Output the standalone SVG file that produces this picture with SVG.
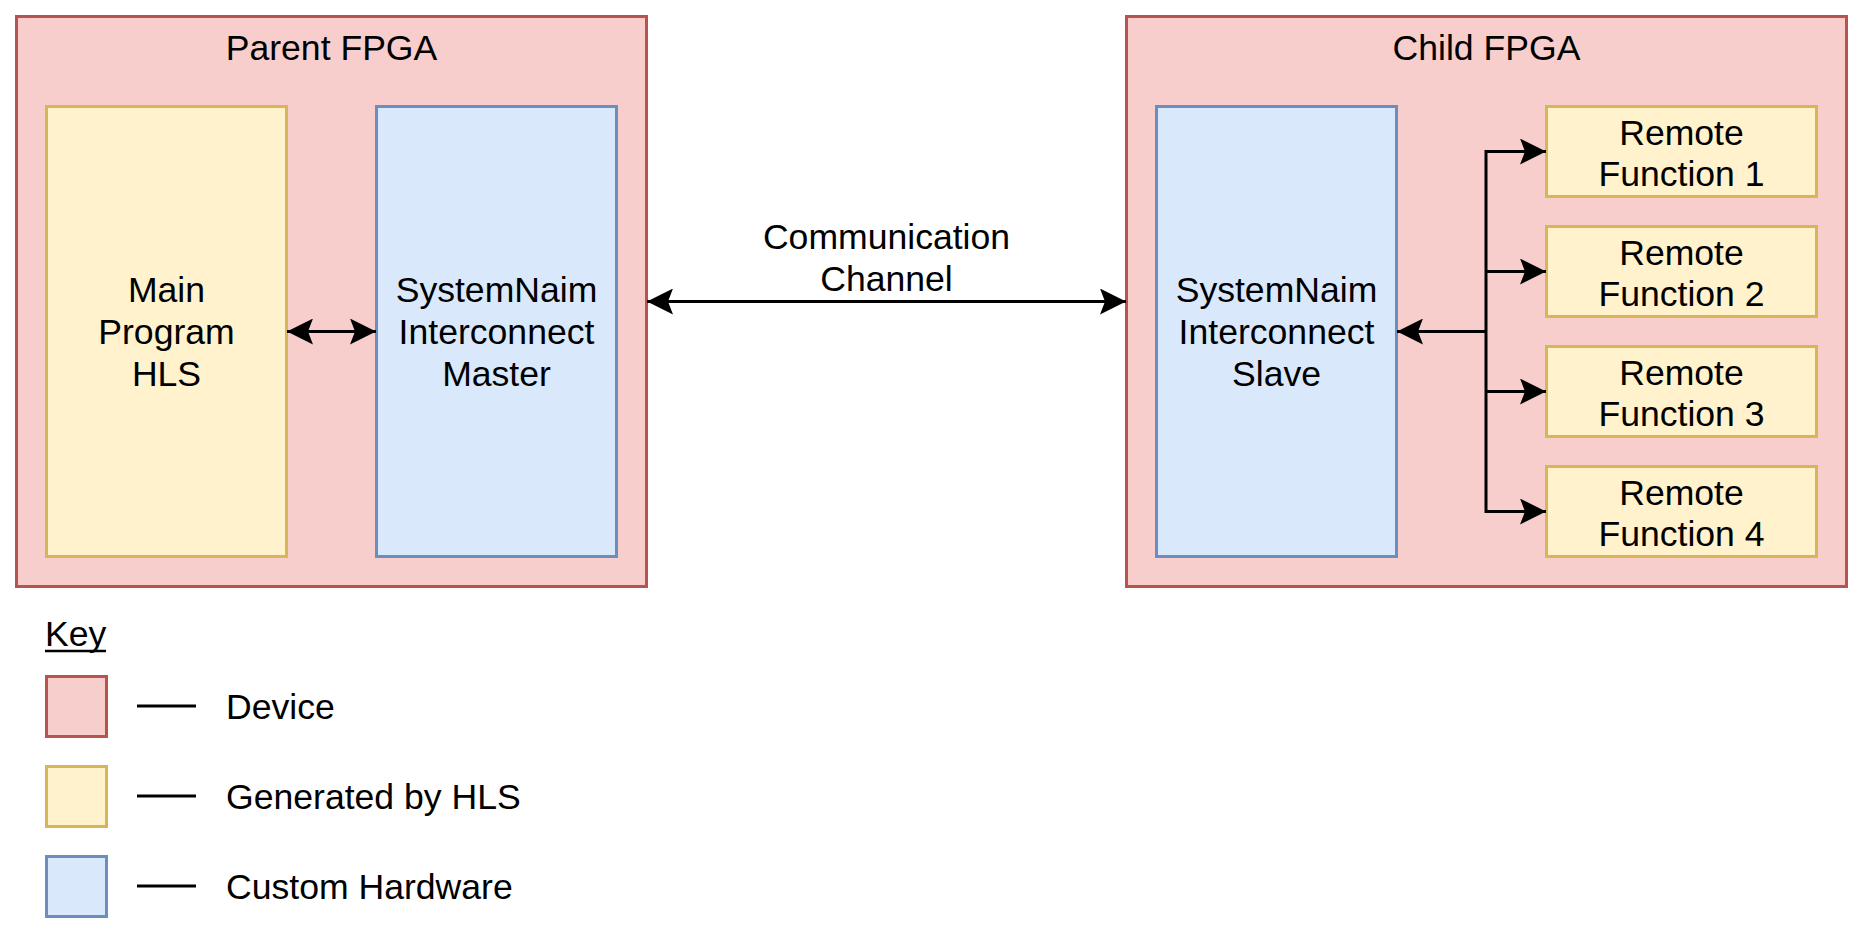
<svg xmlns="http://www.w3.org/2000/svg" width="1863" height="933" viewBox="0 0 1863 933">
<style>
.dev{fill:#f8cecc;stroke:#b85450;stroke-width:3}
.hls{fill:#fff2cc;stroke:#d6b656;stroke-width:3}
.cus{fill:#dae8fc;stroke:#6c8ebf;stroke-width:3}
text{font-family:"Liberation Sans",Arial,sans-serif;font-size:35.6px;fill:#000}
.c{text-anchor:middle}
.ln{stroke:#000;stroke-width:3;fill:none}
</style>
<defs>
<marker id="ah" viewBox="0 0 26 26" refX="26" refY="13" markerWidth="26" markerHeight="26" markerUnits="userSpaceOnUse" orient="auto-start-reverse">
<path d="M26,13 L0,0 L5,13 L0,26 Z" fill="#000"/>
</marker>
</defs>
<rect width="1863" height="933" fill="#fff"/>
<g id="parent-fpga">
<rect class="dev" x="16.5" y="16.5" width="630" height="570"/>
<text class="c" x="331.5" y="60">Parent FPGA</text>
</g>
<g id="main-program">
<rect class="hls" x="46.5" y="106.5" width="240" height="450"/>
<text class="c" x="166.5" y="301.5">Main</text>
<text class="c" x="166.5" y="343.5">Program</text>
<text class="c" x="166.5" y="385.5">HLS</text>
</g>
<g id="master">
<rect class="cus" x="376.5" y="106.5" width="240" height="450"/>
<text class="c" x="496.5" y="301.5">SystemNaim</text>
<text class="c" x="496.5" y="343.5">Interconnect</text>
<text class="c" x="496.5" y="385.5">Master</text>
</g>
<g id="child-fpga">
<rect class="dev" x="1126.5" y="16.5" width="720" height="570"/>
<text class="c" x="1486.5" y="60">Child FPGA</text>
</g>
<g id="slave">
<rect class="cus" x="1156.5" y="106.5" width="240" height="450"/>
<text class="c" x="1276.5" y="301.5">SystemNaim</text>
<text class="c" x="1276.5" y="343.5">Interconnect</text>
<text class="c" x="1276.5" y="385.5">Slave</text>
</g>
<g id="rf1">
<rect class="hls" x="1546.5" y="106.5" width="270" height="90"/>
<text class="c" x="1681.5" y="144.5">Remote</text>
<text class="c" x="1681.5" y="186">Function 1</text>
</g>
<g id="rf2">
<rect class="hls" x="1546.5" y="226.5" width="270" height="90"/>
<text class="c" x="1681.5" y="264.5">Remote</text>
<text class="c" x="1681.5" y="306">Function 2</text>
</g>
<g id="rf3">
<rect class="hls" x="1546.5" y="346.5" width="270" height="90"/>
<text class="c" x="1681.5" y="384.5">Remote</text>
<text class="c" x="1681.5" y="426">Function 3</text>
</g>
<g id="rf4">
<rect class="hls" x="1546.5" y="466.5" width="270" height="90"/>
<text class="c" x="1681.5" y="504.5">Remote</text>
<text class="c" x="1681.5" y="546">Function 4</text>
</g>
<g id="connectors">
<line class="ln" x1="287" y1="331.5" x2="376" y2="331.5" marker-start="url(#ah)" marker-end="url(#ah)"/>
<line class="ln" x1="647" y1="301.5" x2="1126" y2="301.5" marker-start="url(#ah)" marker-end="url(#ah)"/>
<text class="c" x="886.5" y="249">Communication</text>
<text class="c" x="886.5" y="290.5">Channel</text>
<line class="ln" x1="1486" y1="331.5" x2="1397" y2="331.5" marker-end="url(#ah)"/>
<polyline class="ln" points="1520,151.5 1486,151.5 1486,511.5 1520,511.5"/>
<line class="ln" x1="1486" y1="151.5" x2="1546" y2="151.5" marker-end="url(#ah)"/>
<line class="ln" x1="1486" y1="271.5" x2="1546" y2="271.5" marker-end="url(#ah)"/>
<line class="ln" x1="1486" y1="391.5" x2="1546" y2="391.5" marker-end="url(#ah)"/>
<line class="ln" x1="1486" y1="511.5" x2="1546" y2="511.5" marker-end="url(#ah)"/>
</g>
<g id="key">
<text x="45" y="645.5">Key</text>
<line x1="45" y1="651" x2="106" y2="651" stroke="#000" stroke-width="2.4"/>
<rect class="dev" x="46.5" y="676.5" width="60" height="60"/>
<line class="ln" x1="137" y1="706" x2="196" y2="706"/>
<text x="226" y="718.5">Device</text>
<rect class="hls" x="46.5" y="766.5" width="60" height="60"/>
<line class="ln" x1="137" y1="796" x2="196" y2="796"/>
<text x="226" y="808.5">Generated by HLS</text>
<rect class="cus" x="46.5" y="856.5" width="60" height="60"/>
<line class="ln" x1="137" y1="886" x2="196" y2="886"/>
<text x="226" y="898.5">Custom Hardware</text>
</g>
</svg>
